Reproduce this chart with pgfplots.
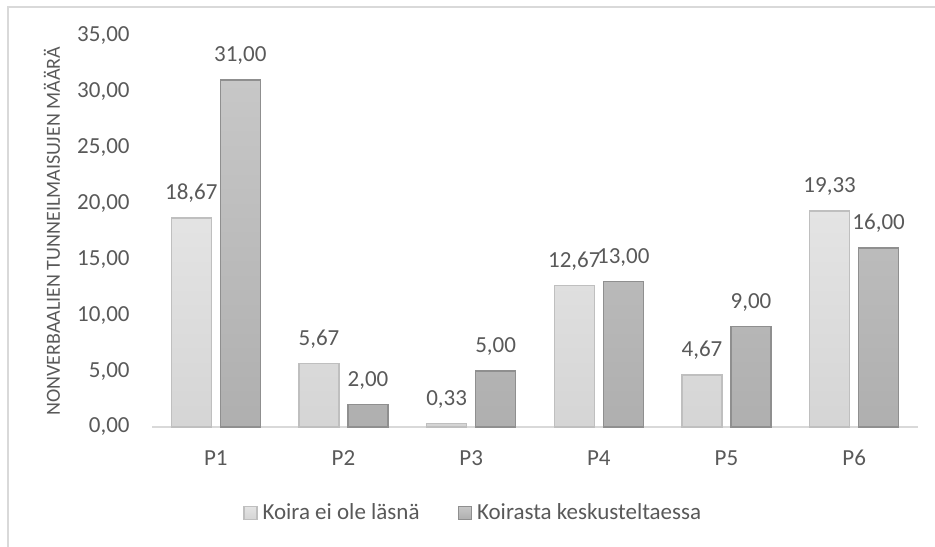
\documentclass[border=0pt]{standalone}
\usepackage{pgfplots}
\pgfplotsset{compat=1.18}
\usepackage{fontspec}
\setmainfont{Carlito}
\definecolor{txt}{HTML}{595959}
\definecolor{frame}{HTML}{D9D9D9}
\definecolor{baseln}{HTML}{D9D9D9}
\definecolor{aT}{HTML}{E4E4E4}
\definecolor{aB}{HTML}{D5D5D5}
\definecolor{aD}{HTML}{BFBFBF}
\definecolor{bT}{HTML}{C7C7C7}
\definecolor{bB}{HTML}{AFAFAF}
\definecolor{bD}{HTML}{8F8F8F}
\newcommand\fs{\fontsize{11.5pt}{13.8pt}\selectfont}
\begin{document}
\begin{tikzpicture}
\path[use as bounding box] (0pt,0pt) rectangle (467.5pt,273pt);
\draw[frame, line width=0.9pt] (4pt,-5pt) -- (4pt,269.5pt) -- (480pt,269.5pt);
\begin{axis}[
  at={(76pt,59.5pt)}, anchor=south west,
  scale only axis, width=383pt, height=195.75pt,
  clip=false, enlargelimits=false,
  ymin=0, ymax=35, ytick={0,5,...,35},
  xmin=-0.5, xmax=5.5, xtick={0,1,2,3,4,5},
  xticklabels={P1,P2,P3,P4,P5,P6},
  axis x line*=bottom, axis y line*=left,
  x axis line style={-, draw=baseln, line width=0.9pt},
  y axis line style={draw=none},
  major tick length=0pt, tick style={draw=none},
  every tick label/.append style={font=\fs, text=txt},
  yticklabel style={anchor=east, inner sep=0pt, xshift=-11pt},
  xticklabel style={anchor=base, inner sep=0pt, yshift=-19pt},
  ylabel={NONVERBAALIEN TUNNEILMAISUJEN MÄÄRÄ},
  ylabel style={at={(axis description cs:-0.1305,0.5)}, anchor=center, rotate=0, inner sep=0pt, font=\fontsize{10pt}{12pt}\selectfont, text=txt},
  /pgf/number format/fixed,
  /pgf/number format/fixed zerofill,
  /pgf/number format/precision=2,
  /pgf/number format/use comma,
  /pgf/number format/assume math mode=true,
  ybar=4.5pt, bar width=20pt,
  nodes near coords,
  every node near coord/.append style={font=\fs, text=txt, inner sep=0pt, text depth=0pt, yshift=8.75pt},
  legend columns=2,
  legend style={at={(axis description cs:0.1188,-0.2171)}, anchor=west, draw=none, fill=none, inner sep=0pt, outer sep=0pt, font=\fs, text=txt,
    nodes={inner sep=0pt, text depth=0pt},
    /tikz/every odd column/.append style={column sep=2.5pt},
    /tikz/every even column/.append style={column sep=19pt}},
  legend cell align=left,
]
\addplot[draw=aD, line width=0.75pt, top color=aT, bottom color=aB,
  legend image code/.code={\draw[draw=aD, line width=0.75pt, top color=aT, bottom color=aB] (0pt,-3.8pt) rectangle (6.5pt,2.7pt);}]
  coordinates {(0,18.67) (1,5.67) (2,0.33) (3,12.67) (4,4.67) (5,19.33)};
\addlegendentry{Koira ei ole läsnä}
\addplot[draw=bD, line width=0.75pt, top color=bT, bottom color=bB,
  legend image code/.code={\draw[draw=bD, line width=0.75pt, top color=bT, bottom color=bB] (0pt,-3.8pt) rectangle (6.5pt,2.7pt);}]
  coordinates {(0,31) (1,2) (2,5) (3,13) (4,9) (5,16)};
\addlegendentry{Koirasta keskusteltaessa}
\end{axis}
\end{tikzpicture}
\end{document}
